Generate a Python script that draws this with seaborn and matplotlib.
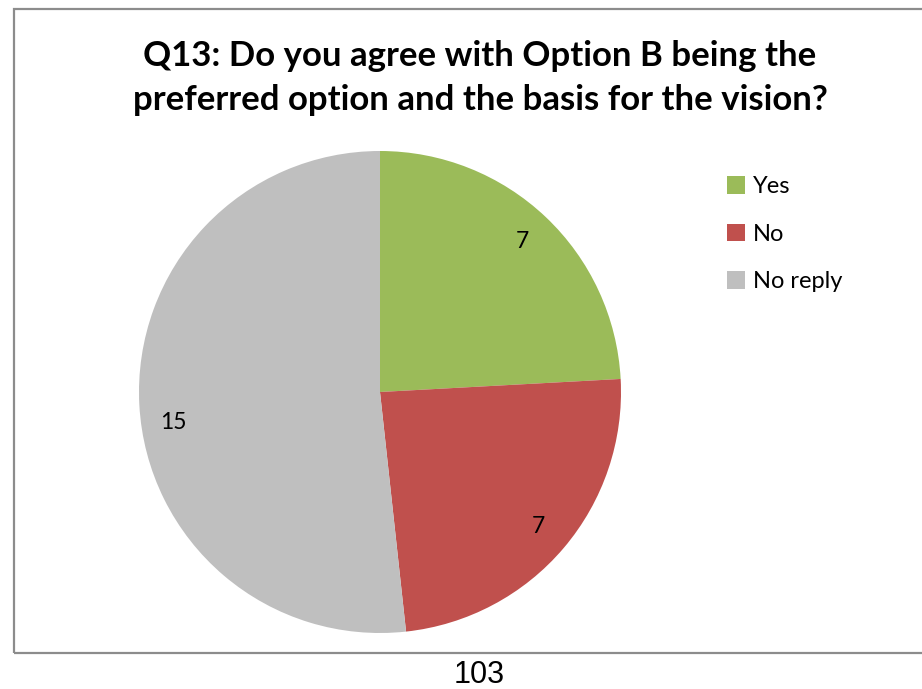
import matplotlib
matplotlib.use("Agg")
import matplotlib.pyplot as plt
from matplotlib.patches import Rectangle
import seaborn as sns

# Survey responses to Q13
categories = ["Yes", "No", "No reply"]
counts = [7, 7, 15]
colors = ["#9BBB59", "#C0504D", "#BFBFBF"]
title = "Q13: Do you agree with Option B being the\npreferred option and the basis for the vision?"
page_number = "103"

sns.set_theme(style="white")
plt.rcParams["font.family"] = ["Lato", "DejaVu Sans"]
plt.rcParams["text.color"] = "black"

W, H = 922, 689
fig = plt.figure(figsize=(W / 100, H / 100), dpi=100)
fig.patch.set_facecolor("white")

# Chart frame (right edge runs off the page)
frame = Rectangle((14 / W, 1 - 653 / H), (W + 10 - 14) / W, (653 - 9) / H,
                  transform=fig.transFigure, fill=False,
                  edgecolor="#8C8C8C", linewidth=1.6, clip_on=False)
fig.patches.append(frame)

# Pie axes: centre (380, 392) px, radius 241 px
cx, cy, r = 380, 392, 241
ax = fig.add_axes([(cx - r) / W, 1 - (cy + r) / H, 2 * r / W, 2 * r / H])
wedges, _, autotexts = ax.pie(
    counts, colors=colors, startangle=90, counterclock=False,
    autopct=lambda p: f"{round(p * sum(counts) / 100):d}",
    pctdistance=0.86, radius=1.0,
    wedgeprops=dict(linewidth=0),
    textprops=dict(fontsize=16.5, color="black"),
)
# the large slice's label sits a little below its bisector
x15, y15 = autotexts[2].get_position()
autotexts[2].set_position((x15, y15 - 0.08))
ax.set_xlim(-1, 1)
ax.set_ylim(-1, 1)
ax.set_axis_off()

fig.text(480 / W, 1 - 78 / H, title, ha="center", va="center",
         fontsize=25, fontweight="bold", linespacing=1.45, color="black")

fig.legend(wedges, categories, loc="upper left",
           bbox_to_anchor=(727 / W, 1 - 176 / H), frameon=False,
           borderpad=0, borderaxespad=0,
           fontsize=17, handlelength=0.78, handleheight=0.78,
           handletextpad=0.3, labelspacing=1.12)

fig.text(479 / W, 1 - 675 / H, page_number, ha="center", va="center",
         fontsize=22, color="black",
         family=["Liberation Sans", "DejaVu Sans"])

fig.savefig("out.png", dpi=100)
